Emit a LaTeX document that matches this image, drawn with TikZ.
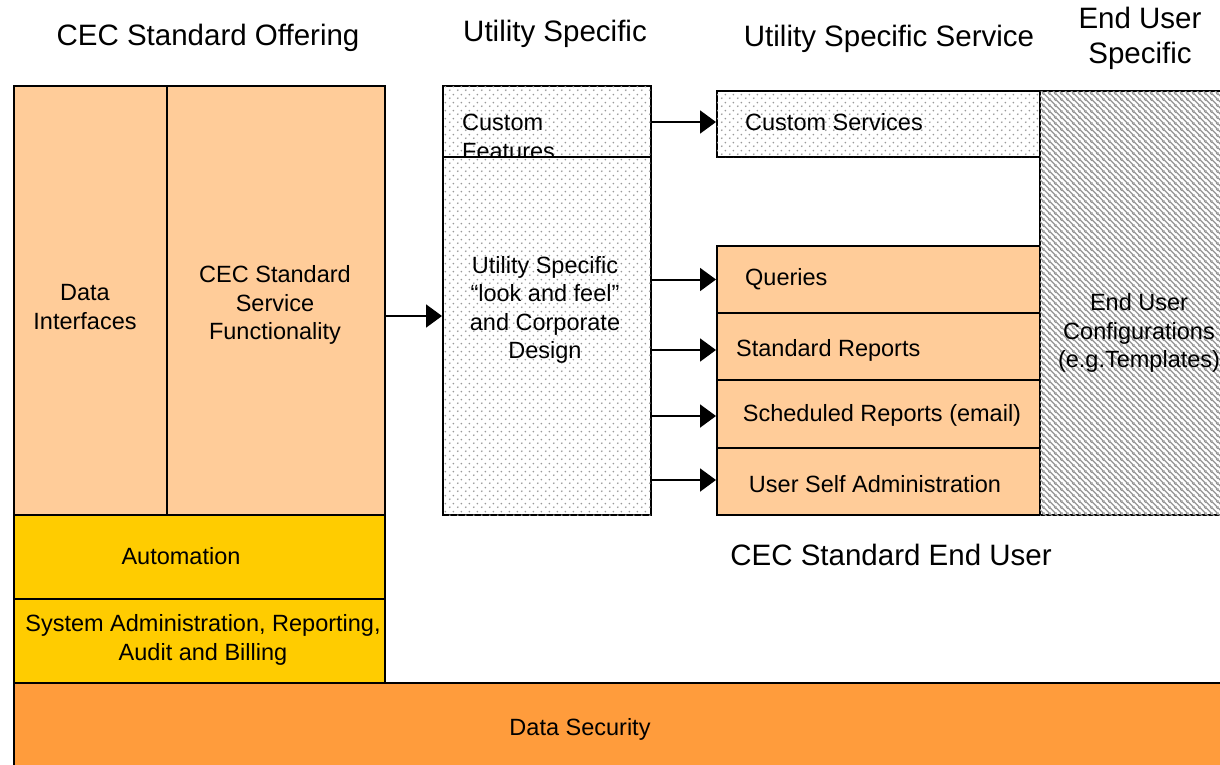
\documentclass[tikz,border=0pt]{standalone}
\usepackage{fontspec}
\setmainfont{Liberation Sans}
\usetikzlibrary{arrows.meta,patterns}
\pgfdeclarepatternformonly{mydots}{\pgfqpoint{0pt}{0pt}}{\pgfqpoint{8pt}{8pt}}{\pgfqpoint{8pt}{8pt}}{%
  \pgfpathcircle{\pgfqpoint{2pt}{2pt}}{1.05pt}%
  \pgfpathcircle{\pgfqpoint{6pt}{6pt}}{1.05pt}%
  \pgfusepath{fill}}
\pgfdeclarepatternformonly{myhatch}{\pgfqpoint{0pt}{0pt}}{\pgfqpoint{6pt}{6pt}}{\pgfqpoint{6pt}{6pt}}{%
  \pgfsetlinewidth{1.4pt}%
  \pgfpathmoveto{\pgfqpoint{-1pt}{7pt}}\pgfpathlineto{\pgfqpoint{7pt}{-1pt}}%
  \pgfpathmoveto{\pgfqpoint{-1pt}{1pt}}\pgfpathlineto{\pgfqpoint{1pt}{-1pt}}%
  \pgfpathmoveto{\pgfqpoint{5pt}{7pt}}\pgfpathlineto{\pgfqpoint{7pt}{5pt}}%
  \pgfusepath{stroke}}
\definecolor{peach}{HTML}{FFCC99}
\definecolor{gold}{HTML}{FFCC00}
\definecolor{orng}{HTML}{FF9C3C}
\tikzset{
  box/.style={draw=black, line width=2pt, rectangle, inner sep=0pt},
  dotbox/.style={box, fill=white, postaction={pattern=mydots, pattern color=black!40}},
  hatchbox/.style={box, fill=white, postaction={pattern=myhatch, pattern color=black!42}},
  txt/.style={font=\fontsize{23.5}{28.3}\selectfont, inner sep=0pt, align=center},
  head/.style={font=\fontsize{29.5}{35}\selectfont, inner sep=0pt, align=center},
  arr/.style={line width=2pt, -{Triangle[length=16pt,width=23pt]}}
}
\begin{document}
\begin{tikzpicture}[x=1pt,y=-1pt]
\useasboundingbox (0,0) rectangle (1220,764);
\clip (0,0) rectangle (1220,764);
% left column
\node[box, fill=peach, minimum width=153pt, minimum height=429pt] (di) at (90.5,300.5) {};
\node[box, fill=peach, minimum width=218pt, minimum height=429pt] (svc) at (276,300.5) {};
\node[box, fill=gold, minimum width=371pt, minimum height=84pt] (auto) at (199.5,557) {};
\node[box, fill=gold, minimum width=371pt, minimum height=84pt] (sys) at (199.5,641) {};
\node[box, fill=orng, minimum width=1226pt, minimum height=107pt] (sec) at (627,736.5) {};
% utility column
\node[dotbox, minimum width=208pt, minimum height=71pt] (cf) at (547,121.5) {};
\node[txt, anchor=west, align=left] (cft) at (462,137) {Custom\\Features};
\node[dotbox, minimum width=208pt, minimum height=358pt] (util) at (547,336) {};
% services column
\node[dotbox, minimum width=323pt, minimum height=66pt] (cs) at (878.5,124) {};
\node[box, fill=peach, minimum width=323pt, minimum height=67pt] (q) at (878.5,279.5) {};
\node[box, fill=peach, minimum width=323pt, minimum height=67pt] (sr) at (878.5,346.5) {};
\node[box, fill=peach, minimum width=323pt, minimum height=68pt] (sch) at (878.5,414) {};
\node[box, fill=peach, minimum width=323pt, minimum height=67pt] (usa) at (878.5,481.5) {};
% end user column
\node[hatchbox, minimum width=210pt, minimum height=424pt] (eu) at (1145,303) {};
% texts
\node[txt] (dit) at (85,307) {Data\\Interfaces};
\node[txt] (svct) at (275,305) {CEC Standard\\Service\\Functionality};
\node[txt] (autot) at (181,556) {Automation};
\node[txt] (syst) at (203,640) {System Administration, Reporting,\\Audit and Billing};
\node[txt] (sect) at (580,729) {Data Security};
\node[txt] (utilt) at (545,310) {Utility Specific\\``look and feel''\\and Corporate\\Design};
\node[txt, anchor=west] (cst) at (745,122) {Custom Services};
\node[txt, anchor=west] (qt) at (745,279) {Queries};
\node[txt, anchor=west] (srt) at (736,350) {Standard Reports};
\node[txt] (scht) at (882,415) {Scheduled Reports (email)};
\node[txt] (usat) at (875,484) {User Self Administration};
\node[txt] (eut) at (1139,333) {End User\\Configurations\\(e.g.Templates)};
% headings
\node[head] (h1) at (208,38) {CEC Standard Offering};
\node[head] (h2) at (555,34) {Utility Specific};
\node[head] (h3) at (889,39) {Utility Specific Service};
\node[head] (h4) at (1140,38) {End User\\Specific};
\node[head] (h5) at (891,555) {CEC Standard End User};
% arrows
\draw[arr] (svc.east |- 0,316) -- (util.west |- 0,316);
\draw[arr] (cf.east |- 0,122) -- (cs.west |- 0,122);
\draw[arr] (util.east |- q.west) -- (q.west);
\draw[arr] (util.east |- 0,350) -- (sr.west |- 0,350);
\draw[arr] (util.east |- 0,416) -- (sch.west |- 0,416);
\draw[arr] (util.east |- 0,480) -- (usa.west |- 0,480);
\end{tikzpicture}
\end{document}
